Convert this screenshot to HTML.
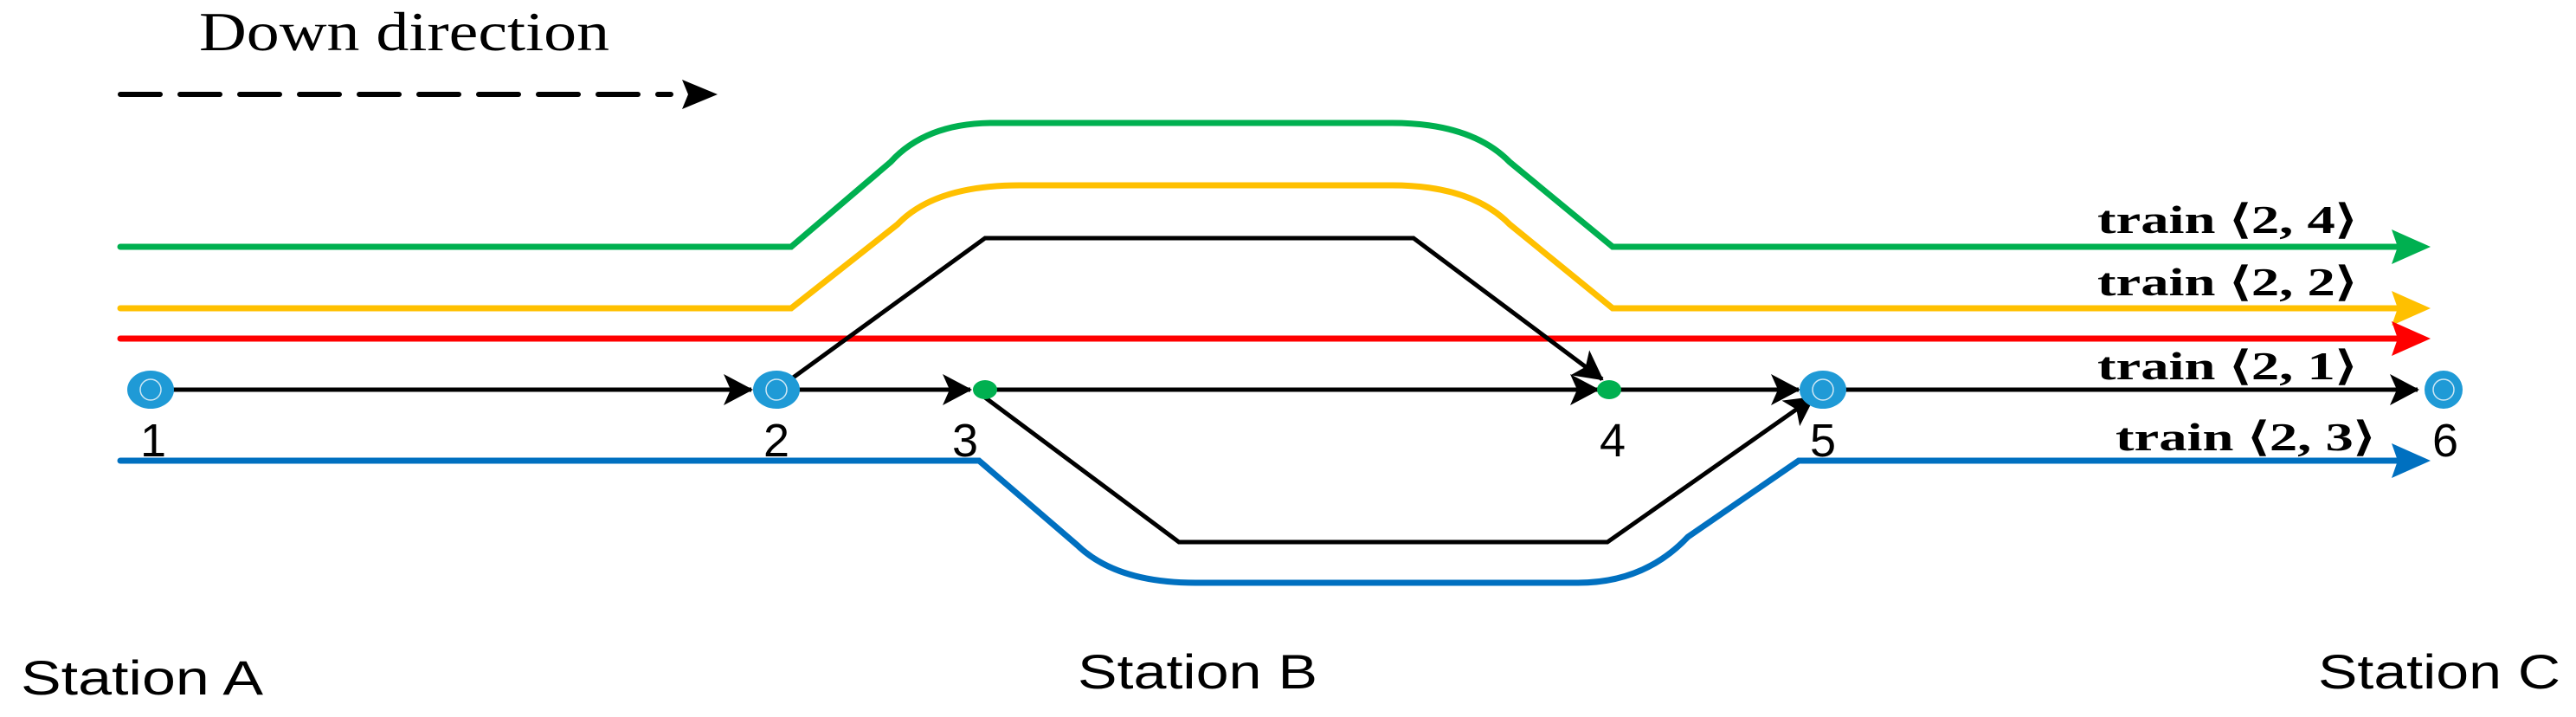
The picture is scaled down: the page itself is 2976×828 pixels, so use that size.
<!DOCTYPE html>
<html><head><meta charset="utf-8"><style>html,body{margin:0;padding:0;background:#fff}svg{display:block}</style></head>
<body>
<svg width="2976" height="828" viewBox="0 0 2976 828" xmlns="http://www.w3.org/2000/svg">
<defs>
<marker id="ab" markerWidth="34" markerHeight="36" refX="32" refY="18" orient="auto" markerUnits="userSpaceOnUse" viewBox="0 0 34 36"><path d="M0,0 L34,18 L0,36 L8,18 Z" fill="#000"/></marker>
</defs>
<text x="230" y="58" font-family="Liberation Serif, serif" font-size="64" textLength="474" lengthAdjust="spacingAndGlyphs">Down direction</text>
<line x1="139" y1="109" x2="775" y2="109" stroke="#000" stroke-width="6" stroke-dasharray="46,23" stroke-linecap="round"/>
<path d="M788,92 L829,109 L788,126 L795,109 Z" fill="#000"/>

<g fill="none" stroke-width="7" stroke-linecap="round">
<path d="M139,285 L914,285 L1029,187 Q1070,142 1148,142 L1608,142 Q1700,142 1744,187 L1863,285 L2770,285" stroke="#00b050"/>
<path d="M139,356 L914,356 L1037,259 Q1080,214 1178,214 L1608,214 Q1700,214 1744,259 L1863,356 L2770,356" stroke="#ffc000"/>
<path d="M139,391 L2770,391" stroke="#ff0000"/>
<path d="M139,532 L1131,532 L1245,630 Q1290,673 1381,673 L1823,673 Q1900,673 1950,620 L2078,532 L2770,532" stroke="#0070c0"/>
</g>
<path d="M2763,265 L2808,285 L2763,305 L2770,285 Z" fill="#00b050"/>
<path d="M2763,336 L2808,356 L2763,376 L2770,356 Z" fill="#ffc000"/>
<path d="M2763,371 L2808,391 L2763,411 L2770,391 Z" fill="#ff0000"/>
<path d="M2763,512 L2808,532 L2763,552 L2770,532 Z" fill="#0070c0"/>

<g fill="none" stroke="#000" stroke-width="5">
<path d="M897,450 L1138,275 L1633,275 L1851,438" marker-end="url(#ab)"/>
<path d="M1138,459 L1362,626 L1857,626 L2095,459" marker-end="url(#ab)"/>
<line x1="200" y1="450" x2="868" y2="450" marker-end="url(#ab)"/>
<line x1="922" y1="450" x2="1121" y2="450" marker-end="url(#ab)"/>
<line x1="1150" y1="450" x2="1846" y2="450" marker-end="url(#ab)"/>
<line x1="1870" y1="450" x2="2078" y2="450" marker-end="url(#ab)"/>
<line x1="2130" y1="450" x2="2793" y2="450" marker-end="url(#ab)"/>
</g>
<g fill="#1f9ad6"><ellipse cx="174" cy="450" rx="27" ry="22"/><ellipse cx="897" cy="450" rx="27" ry="22"/><ellipse cx="2106" cy="450" rx="27" ry="22"/><ellipse cx="2823" cy="450" rx="22" ry="22"/></g>
<g fill="none" stroke="#cfe8f5" stroke-width="1.5"><circle cx="174" cy="450" r="12"/><circle cx="897" cy="450" r="12"/><circle cx="2106" cy="450" r="12"/><circle cx="2823" cy="450" r="12"/></g>
<g fill="#00b050"><ellipse cx="1138" cy="450" rx="14" ry="11"/><ellipse cx="1859" cy="450" rx="14" ry="11"/></g>

<g font-family="Liberation Sans, sans-serif" font-size="54" text-anchor="middle">
<text x="177" y="527">1</text><text x="897" y="527">2</text><text x="1115" y="527">3</text>
<text x="1863" y="527">4</text><text x="2106" y="527">5</text><text x="2825" y="527">6</text>
</g>
<g font-family="Liberation Serif, serif" font-size="46" font-weight="bold">
<text x="2423" y="269" textLength="300" lengthAdjust="spacingAndGlyphs">train  ⟨2, 4⟩</text>
<text x="2423" y="341" textLength="300" lengthAdjust="spacingAndGlyphs">train  ⟨2, 2⟩</text>
<text x="2423" y="438" textLength="300" lengthAdjust="spacingAndGlyphs">train  ⟨2, 1⟩</text>
<text x="2444" y="520" textLength="300" lengthAdjust="spacingAndGlyphs">train  ⟨2, 3⟩</text>
</g>
<g font-family="Liberation Sans, sans-serif" font-size="56">
<text x="24" y="802" textLength="280" lengthAdjust="spacingAndGlyphs">Station A</text>
<text x="1245" y="795" textLength="277" lengthAdjust="spacingAndGlyphs">Station B</text>
<text x="2678" y="795" textLength="280" lengthAdjust="spacingAndGlyphs">Station C</text>
</g>
</svg>
</body></html>
